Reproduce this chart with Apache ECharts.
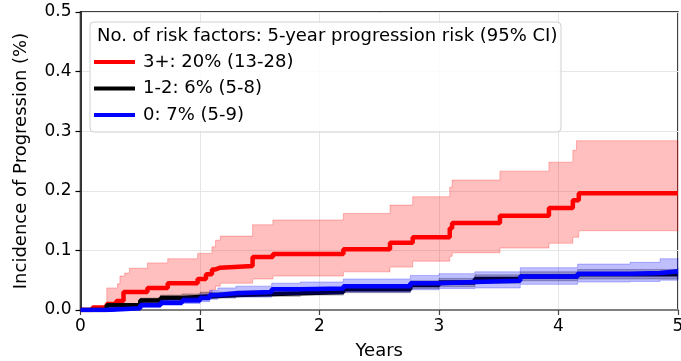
<!DOCTYPE html>
<html><head><meta charset="utf-8">
<script src="https://cdn.jsdelivr.net/npm/echarts@6/dist/echarts.min.js"></script>
<style>html,body{margin:0;padding:0;background:#fff;overflow:hidden}#c{width:681px;height:361px}</style>
</head><body><div id="c"></div>
<script>
const xTicks = [0, 1, 2, 3, 4, 5];
const yTicks = [0.0, 0.1, 0.2, 0.3, 0.4, 0.5];
const xName = 'Years';
const yName = 'Incidence of Progression (%)';
const legendTitle = 'No. of risk factors: 5-year progression risk (95% CI)';
const seriesNames = ['3+: 20% (13-28)', '1-2: 6% (5-8)', '0: 7% (5-9)'];

// 3+ risk factors
const redT  = [0, 0.10, 0.22, 0.30, 0.31, 0.33, 0.36, 0.37, 0.41, 0.56, 0.73, 0.98, 1.05, 1.10, 1.13, 1.17, 1.44, 1.61, 2.20, 2.59, 2.78, 3.09, 3.11, 3.51, 3.92, 4.12, 4.15, 4.17, 5.00];
const redV  = [0, 0.004, 0.010, 0.015, 0.015, 0.015, 0.030, 0.030, 0.030, 0.037, 0.045, 0.052, 0.060, 0.068, 0.071, 0.074, 0.089, 0.094, 0.102, 0.113, 0.122, 0.137, 0.146, 0.158, 0.171, 0.184, 0.184, 0.196, 0.196];
const redUp = [0, 0.004, 0.037, 0.037, 0.044, 0.057, 0.057, 0.062, 0.070, 0.079, 0.086, 0.095, 0.095, 0.106, 0.117, 0.124, 0.143, 0.151, 0.162, 0.176, 0.190, 0.206, 0.218, 0.233, 0.248, 0.268, 0.284, 0.284, 0.284];
const redLo = [0, 0.004, 0.003, 0.005, 0.005, 0.005, 0.010, 0.010, 0.010, 0.014, 0.018, 0.022, 0.028, 0.034, 0.040, 0.045, 0.052, 0.057, 0.064, 0.072, 0.082, 0.090, 0.096, 0.104, 0.112, 0.122, 0.122, 0.133, 0.133];

// 1-2 risk factors
const blkT  = [0, 0.22, 0.50, 0.67, 0.85, 1.00, 1.30, 1.60, 1.84, 2.20, 2.76, 3.00, 3.30, 3.68, 4.16, 4.60, 5.00];
const blkV  = [0, 0.008, 0.016, 0.020, 0.022, 0.025, 0.027, 0.028, 0.030, 0.035, 0.042, 0.046, 0.052, 0.056, 0.060, 0.060, 0.061];
const blkUp = [0, 0.011, 0.020, 0.025, 0.027, 0.030, 0.032, 0.034, 0.036, 0.041, 0.049, 0.053, 0.059, 0.064, 0.068, 0.068, 0.070];
const blkLo = [0, 0.005, 0.012, 0.016, 0.018, 0.020, 0.022, 0.023, 0.025, 0.029, 0.036, 0.039, 0.045, 0.049, 0.052, 0.052, 0.053];

// 0 risk factors
const bluT  = [0, 0.22, 0.50, 0.67, 0.85, 1.00, 1.08, 1.15, 1.30, 1.60, 1.84, 2.20, 2.76, 3.00, 3.30, 3.68, 4.16, 4.60, 4.85, 5.00];
const bluV  = [0, 0.003, 0.008, 0.012, 0.016, 0.020, 0.025, 0.028, 0.030, 0.035, 0.036, 0.040, 0.045, 0.047, 0.049, 0.056, 0.061, 0.062, 0.065, 0.065];
const bluUp = [0, 0.005, 0.012, 0.017, 0.022, 0.027, 0.033, 0.037, 0.040, 0.045, 0.047, 0.052, 0.058, 0.061, 0.064, 0.071, 0.077, 0.080, 0.086, 0.087];
const bluLo = [0, 0.001, 0.005, 0.008, 0.011, 0.014, 0.018, 0.021, 0.022, 0.026, 0.027, 0.030, 0.034, 0.036, 0.037, 0.043, 0.047, 0.048, 0.050, 0.050];

const FONT = 'DejaVu Sans';
const FS = 18;
const FS_TICK = 17;

function bandSeries(name, T, Lo, Up, fill, stroke, z) {
  return {
    type: 'custom', name: name, z: z, silent: true,
    coordinateSystem: 'cartesian2d',
    data: T.map((t, i) => [t, Lo[i], Up[i]]),
    encode: { x: 0, y: [1, 2] },
    renderItem: function (params, api) {
      if (params.dataIndex !== 0) return null;
      const pts = [];
      const n = T.length;
      for (let i = 0; i < n; i++) {
        const tn = i < n - 1 ? T[i + 1] : T[i];
        pts.push(api.coord([T[i], Up[i]]));
        pts.push(api.coord([tn, Up[i]]));
      }
      for (let i = n - 1; i >= 0; i--) {
        const tn = i < n - 1 ? T[i + 1] : T[i];
        pts.push(api.coord([tn, Lo[i]]));
        pts.push(api.coord([T[i], Lo[i]]));
      }
      return { type: 'polygon', shape: { points: pts }, style: { fill: fill, stroke: stroke, lineWidth: 1 } };
    }
  };
}
function lineSeries(name, T, V, color, z) {
  return {
    type: 'line', name: name, z: z, step: 'end', symbol: 'none', showSymbol: false,
    data: T.map((t, i) => [t, V[i]]),
    lineStyle: { color: color, width: 4.5 }, itemStyle: { color: color },
    silent: true
  };
}

const chart = echarts.init(document.getElementById('c'), null, { renderer: 'canvas', width: 681, height: 361 });
chart.setOption({
  animation: false,
  backgroundColor: '#fff',
  textStyle: { fontFamily: FONT },
  grid: { left: 80.5, right: 3, top: 12, bottom: 51, show: true, borderColor: '#000', borderWidth: 1.5,
          containLabel: false, outerBoundsMode: 'none' },
  xAxis: {
    type: 'value', min: xTicks[0], max: xTicks[xTicks.length - 1], interval: 1,
    name: xName, nameLocation: 'middle', nameGap: 32,
    nameTextStyle: { fontSize: FS, color: '#000', fontFamily: FONT },
    axisLine: { show: true, onZero: false, lineStyle: { color: '#808080', width: 2 } },
    axisTick: { show: true, length: 5, lineStyle: { color: '#444', width: 1.2 } },
    axisLabel: { fontSize: FS_TICK, color: '#000', margin: 8, fontFamily: FONT, hideOverlap: false },
    splitLine: { show: true, lineStyle: { color: '#e6e6e6', width: 1 } }
  },
  yAxis: {
    type: 'value', min: yTicks[0], max: yTicks[yTicks.length - 1], interval: 0.1,
    name: yName, nameLocation: 'middle', nameGap: 50,
    nameTextStyle: { fontSize: FS, color: '#000', fontFamily: FONT },
    axisLine: { show: true, lineStyle: { color: '#000', width: 1.5 } },
    axisTick: { show: true, length: 5, lineStyle: { color: '#000', width: 1.2 } },
    axisLabel: { fontSize: FS_TICK, color: '#000', margin: 9, fontFamily: FONT, formatter: v => v.toFixed(1) },
    splitLine: { show: true, lineStyle: { color: '#e6e6e6', width: 1 } }
  },
  legend: {
    data: seriesNames, orient: 'vertical', left: 94, top: 52, z: 20,
    icon: 'rect', itemWidth: 41, itemHeight: 4, itemGap: 6.5, selectedMode: false,
    padding: 0,
    textStyle: { fontSize: FS, color: '#000', fontFamily: FONT, lineHeight: 20, padding: [0, 0, 0, 3] }
  },
  graphic: {
    elements: [
      { type: 'rect', z: 15, shape: { x: 90, y: 22, width: 471, height: 110, r: 4 },
        style: { fill: 'rgba(255,255,255,0.85)', stroke: '#d0d0d0', lineWidth: 1 } },
      { type: 'text', z: 16, x: 97, y: 36,
        style: { text: legendTitle, fontSize: FS, fontFamily: FONT, fill: '#000', verticalAlign: 'middle', align: 'left' } }
    ]
  },
  series: [
    bandSeries('band3', redT, redLo, redUp, 'rgba(255,0,0,0.25)', 'rgba(255,0,0,0.25)', 1),
    lineSeries(seriesNames[0], redT, redV, '#ff0000', 2),
    bandSeries('band12', blkT, blkLo, blkUp, 'rgba(0,0,0,0.25)', 'rgba(0,0,0,0.25)', 3),
    lineSeries(seriesNames[1], blkT, blkV, '#000000', 4),
    bandSeries('band0', bluT, bluLo, bluUp, 'rgba(0,0,255,0.25)', 'rgba(0,0,255,0.25)', 5),
    lineSeries(seriesNames[2], bluT, bluV, '#0000ff', 6)
  ]
});
</script>
</body></html>
